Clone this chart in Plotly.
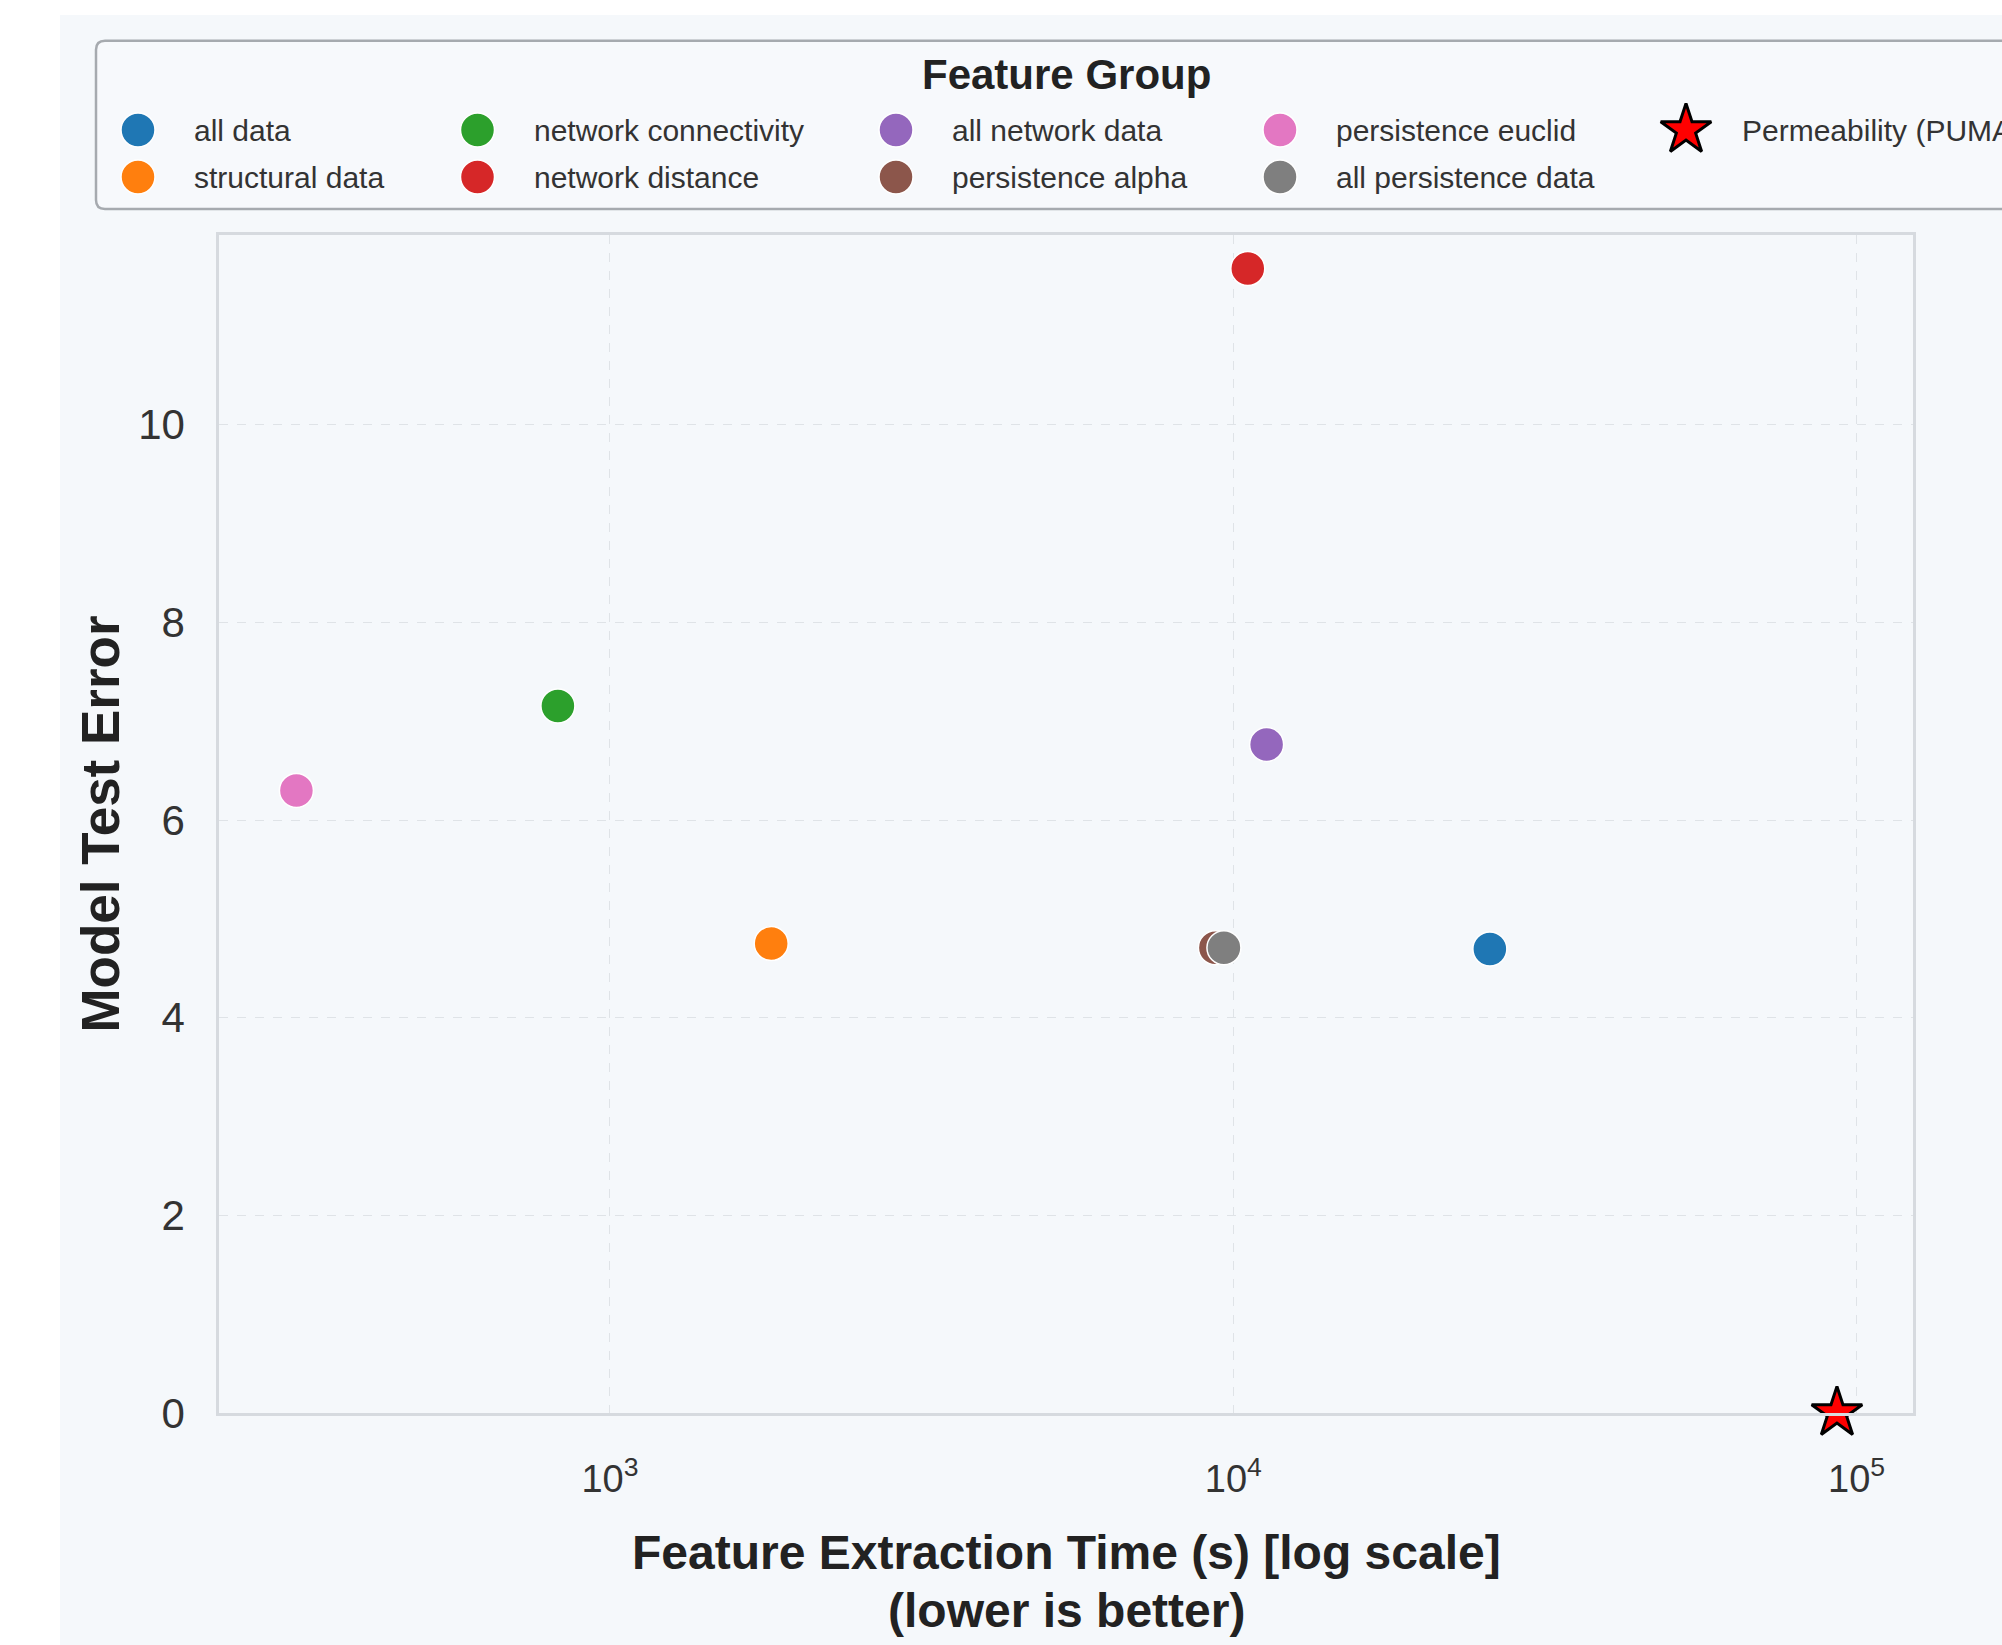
import plotly.graph_objects as go

# ---------------- data ----------------
groups = ["all data", "structural data", "network connectivity", "network distance",
          "all network data", "persistence alpha", "persistence euclid", "all persistence data"]
extract_time = [25800, 1814, 825, 10550, 11310, 9360, 314, 9660]
test_error = [4.695, 4.75, 7.154, 11.58, 6.765, 4.708, 6.30, 4.708]
group_colors = ["#1f77b4", "#ff7f0e", "#2ca02c", "#d62728",
                "#9467bd", "#8c564b", "#e377c2", "#7f7f7f"]

ref_label = "Permeability (PUMA)"
ref_time = [93000]
ref_error = [0.0]

x_tick_exponents = [3, 4, 5]
y_tick_vals = [0, 2, 4, 6, 8, 10]

legend_title = "Feature Group"
x_title_lines = ["Feature Extraction Time (s) [log scale]", "(lower is better)"]
y_title = "Model Test Error"

# ---------------- layout constants (pixels) ----------------
W, H = 2002, 1645
PL, PR, PT, PB = 219.3, 1912.7, 235.0, 1413.0
x_range_log = [2.3732, 5.090]
y_range = [0, 11.92]

BG = "#f5f8fb"
FONT = "Liberation Sans, Arial, sans-serif"

legend_cols_x = [138, 477.5, 896, 1280, 1686]
legend_rows_y = [130, 177]
legend_text_gap = 54


def px_x(p):
    return p / W


def px_y(p):
    return 1 - p / H


fig = go.Figure()

# data points
for name, t, e, c in zip(groups, extract_time, test_error, group_colors):
    fig.add_trace(go.Scatter(
        x=[t], y=[e], mode="markers", name=name, cliponaxis=False,
        marker=dict(size=34, color=c, opacity=1, line=dict(color="white", width=1.5)),
        xaxis="x", yaxis="y", showlegend=False))

fig.add_trace(go.Scatter(
    x=ref_time, y=ref_error, mode="markers", name=ref_label, cliponaxis=False,
    marker=dict(symbol="star", size=38, color="#ff0000", opacity=1,
                line=dict(color="black", width=3)),
    xaxis="x", yaxis="y", showlegend=False))

# legend (markers on a pixel-space helper axis, labels as text)
entries = groups + [ref_label]
entry_colors = group_colors + ["#ff0000"]
entry_symbols = ["circle"] * len(groups) + ["star"]
entry_sizes = [34] * len(groups) + [38]
entry_line_colors = ["white"] * len(groups) + ["black"]
entry_line_widths = [1.5] * len(groups) + [3]
lx = [legend_cols_x[i // 2] for i in range(len(entries))]
ly = [legend_rows_y[i % 2] for i in range(len(entries))]

fig.add_trace(go.Scatter(
    x=lx, y=ly, mode="markers", xaxis="x2", yaxis="y2", showlegend=False,
    cliponaxis=False, hoverinfo="skip",
    marker=dict(symbol=entry_symbols, size=entry_sizes, color=entry_colors, opacity=1,
                line=dict(color=entry_line_colors, width=entry_line_widths))))

annotations = []
for name, x, y in zip(entries, lx, ly):
    annotations.append(dict(
        text=name, x=x + legend_text_gap, y=y, xref="x2", yref="y2",
        xanchor="left", yanchor="middle", showarrow=False,
        font=dict(family=FONT, size=30, color="#333333")))

annotations.append(dict(
    text=legend_title, x=1066, y=74, xref="x2", yref="y2",
    xanchor="center", yanchor="middle", showarrow=False,
    font=dict(family=FONT, size=42, color="#222222", weight="bold")))

# axis titles
annotations.append(dict(
    text=x_title_lines[0], x=(PL + PR) / 2, y=1552.6, xref="x2", yref="y2",
    xanchor="center", yanchor="middle", showarrow=False,
    font=dict(family=FONT, size=48, color="#222222", weight="bold")))
annotations.append(dict(
    text=x_title_lines[1], x=(PL + PR) / 2, y=1610, xref="x2", yref="y2",
    xanchor="center", yanchor="middle", showarrow=False,
    font=dict(family=FONT, size=48, color="#222222", weight="bold")))
annotations.append(dict(
    text=y_title, x=99.6, y=(PT + PB) / 2, xref="x2", yref="y2", textangle=-90,
    xanchor="center", yanchor="middle", showarrow=False,
    font=dict(family=FONT, size=53, color="#222222", weight="bold")))

# shapes: page background + legend frame (open on the right, cut by the edge)
x0, x1 = px_x(96), 1.0
yt, yb = px_y(40.7), px_y(209)
rx, ry = 9 / W, 9 / H
legend_path = (f"M {x1},{yt} L {x0 + rx},{yt} Q {x0},{yt} {x0},{yt - ry} "
               f"L {x0},{yb + ry} Q {x0},{yb} {x0 + rx},{yb} L {x1},{yb}")
shapes = [
    dict(type="rect", xref="paper", yref="paper", x0=px_x(60), x1=1.0,
         y0=0.0, y1=px_y(15), fillcolor=BG, line=dict(width=0), layer="below"),
    dict(type="path", xref="paper", yref="paper", path=legend_path,
         fillcolor="#f7f9fc", line=dict(color="#a6aaaf", width=2.5), layer="below"),
]

axis_common = dict(showline=True, mirror=True, linecolor="#d6dadf", linewidth=3,
                   showgrid=True, gridcolor="#dfe3e7", gridwidth=1.2, griddash="dash",
                   zeroline=False, ticks="", automargin=False)

fig.update_layout(
    width=W, height=H,
    margin=dict(l=0, r=0, t=0, b=0, pad=0, autoexpand=False),
    paper_bgcolor="white", plot_bgcolor="rgba(0,0,0,0)",
    showlegend=False,
    font=dict(family=FONT, color="#333333"),
    xaxis=dict(domain=[px_x(PL), px_x(PR)], anchor="y", type="log", range=x_range_log,
               tickmode="array", tickvals=[10 ** e for e in x_tick_exponents],
               ticktext=[f"10<sup>{e}</sup>" for e in x_tick_exponents],
               tickfont=dict(family=FONT, size=38, color="#333333"),
               ticklabelstandoff=30, **axis_common),
    yaxis=dict(domain=[px_y(PB), px_y(PT)], anchor="x", range=y_range,
               tickmode="array", tickvals=y_tick_vals,
               tickfont=dict(family=FONT, size=42, color="#333333"),
               ticklabelstandoff=23, **axis_common),
    xaxis2=dict(domain=[0, 1], anchor="y2", range=[0, W], visible=False,
                fixedrange=True, automargin=False),
    yaxis2=dict(domain=[0, 1], anchor="x2", range=[H, 0], visible=False,
                fixedrange=True, automargin=False),
    annotations=annotations,
    shapes=shapes,
)

fig.write_html("out.html", config={"displayModeBar": False},
               post_script="document.body.style.margin='0';")
